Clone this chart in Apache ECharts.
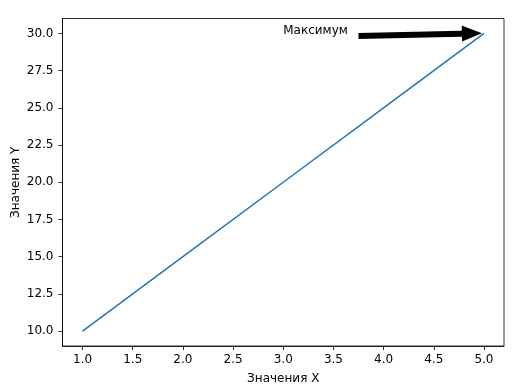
<!DOCTYPE html>
<html><head><meta charset="utf-8">
<script src="https://cdn.jsdelivr.net/npm/echarts@6/dist/echarts.min.js"></script>
<style>html,body{margin:0;padding:0;background:#fff}#c{width:512px;height:391px}</style>
</head><body><div id="c"></div>
<script>
const xValues = [1, 2, 3, 4, 5];
const yValues = [10, 15, 20, 25, 30];
const xTicks = [1.0, 1.5, 2.0, 2.5, 3.0, 3.5, 4.0, 4.5, 5.0];
const yTicks = [10.0, 12.5, 15.0, 17.5, 20.0, 22.5, 25.0, 27.5, 30.0];
const annotText = 'Максимум';
const annotTextAt = [3, 30];
const arrowFrom = [3.75, 29.83];
const arrowTo = [4.88, 30.0];

const font = 'DejaVu Sans';
const fs = 12;
const chart = echarts.init(document.getElementById('c'), null, {renderer: 'canvas'});
const axisCommon = {
  axisLine: {show: true, lineStyle: {color: '#000', width: 0.8}},
  axisTick: {show: true, inside: false, length: 4, lineStyle: {color: '#000', width: 0.8}},
  splitLine: {show: false},
  nameMoveOverlap: false,
  nameTextStyle: {fontFamily: font, fontSize: fs, color: '#000'}
};
chart.setOption({
  animation: false,
  backgroundColor: '#fff',
  grid: {left: 62.5, right: 8, top: 18.5, bottom: 45, containLabel: false, outerBoundsMode: 'none',
    show: true, borderColor: '#000', borderWidth: 0.8, backgroundColor: 'transparent'},
  xAxis: Object.assign({}, axisCommon, {
    type: 'value', min: 0.8, max: 5.2,
    name: 'Значения X', nameLocation: 'middle', nameGap: 27,
    axisTick: Object.assign({}, axisCommon.axisTick, {customValues: xTicks}),
    axisLabel: {customValues: xTicks, formatter: v => v.toFixed(1), fontFamily: font, fontSize: fs, color: '#000', margin: 8}
  }),
  yAxis: Object.assign({}, axisCommon, {
    type: 'value', min: 9, max: 31,
    name: 'Значения Y', nameLocation: 'middle', nameGap: 41,
    axisTick: Object.assign({}, axisCommon.axisTick, {customValues: yTicks}),
    axisLabel: {customValues: yTicks, formatter: v => v.toFixed(1), fontFamily: font, fontSize: fs, color: '#000', margin: 9}
  }),
  series: [{
    type: 'line',
    data: xValues.map((x, i) => [x, yValues[i]]),
    showSymbol: false,
    lineStyle: {color: '#1f77b4', width: 1.5},
    silent: true,
    markLine: {
      silent: true,
      symbol: ['none', 'triangle'],
      symbolSize: [16, 20],
      lineStyle: {color: '#000', width: 6, type: 'solid'},
      itemStyle: {color: '#000'},
      label: {show: false},
      data: [[{coord: arrowFrom}, {coord: arrowTo}]]
    },
    markPoint: {
      silent: true,
      symbol: 'circle', symbolSize: 0,
      data: [{coord: annotTextAt, value: annotText,
        label: {show: true, formatter: annotText, position: [0, 0], align: 'left', verticalAlign: 'bottom',
          offset: [0, 3], fontFamily: font, fontSize: fs, color: '#000'}}]
    }
  }]
});
</script>
</body></html>
